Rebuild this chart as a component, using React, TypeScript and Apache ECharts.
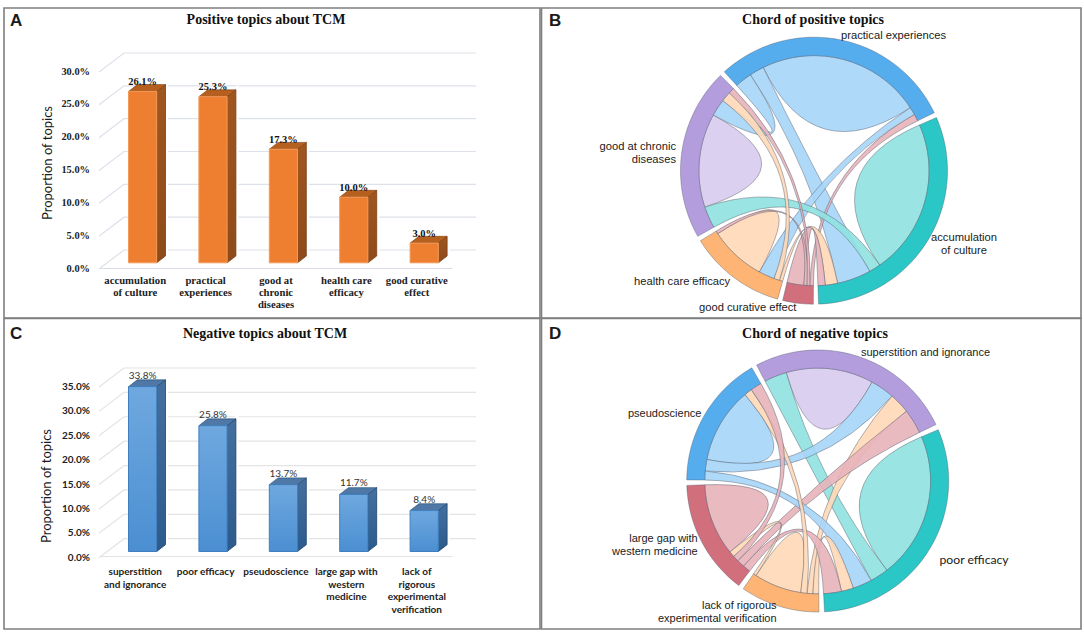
import React, { useEffect, useRef } from "react";
import * as echarts from "echarts";

// ---------- bar data ----------
const positiveCategories = ["accumulation\nof culture", "practical\nexperiences", "good at\nchronic\ndiseases", "health care\nefficacy", "good curative\neffect"];
const positiveValues = [26.1, 25.3, 17.3, 10.0, 3.0];
const negativeCategories = ["superstition\nand ignorance", "poor efficacy", "pseudoscience", "large gap with\nwestern\nmedicine", "lack of\nrigorous\nexperimental\nverification"];
const negativeValues = [33.8, 25.8, 13.7, 11.7, 8.4];
const positiveTicks = [0, 5, 10, 15, 20, 25, 30];
const negativeTicks = [0, 5, 10, 15, 20, 25, 30, 35];

// ---------- chord data: per topic, clockwise list of [other topic, degrees of the arc used] ----------
const PE = "practical experiences", AC = "accumulation of culture", GC = "good curative effect", HC = "health care efficacy", CD = "good at chronic diseases";
const positiveNodes = [PE, AC, GC, HC, CD];
const positiveSegments: Record<string, [string, number][]> = {
  [PE]: [[CD, 8.7], [AC, 7.3], [PE, 83], [HC, 4], [GC, 3.5]],
  [AC]: [[AC, 78.6], [CD, 5.8], [PE, 17.2], [HC, 6.2], [GC, 3.7]],
  [GC]: [[PE, 1.8], [CD, 1.5], [HC, 1.5], [AC, 8.5]],
  [HC]: [[AC, 1.7], [CD, 2.8], [PE, 8], [HC, 28.5], [GC, 1.5]],
  [CD]: [[AC, 11], [CD, 47.4], [PE, 8.6], [HC, 5], [GC, 3]],
};
const SI = "superstition and ignorance", PF = "poor efficacy", LR = "lack of rigorous experimental verification", LG = "large gap with western medicine", PS = "pseudoscience";
const negativeNodes = [SI, PF, LR, LG, PS];
const negativeSegments: Record<string, [string, number][]> = {
  [SI]: [[PF, 11.6], [SI, 45], [PS, 12.4], [LR, 10.6], [LG, 12.7]],
  [PF]: [[PF, 75.3], [SI, 9.5], [PS, 9.9], [LR, 6.2], [LG, 9.2]],
  [LR]: [[PF, 3], [SI, 3], [PS, 3.2], [LR, 24.5], [LG, 1.5]],
  [LG]: [[PF, 4], [SI, 4], [PS, 3], [LR, 3], [LG, 37]],
  [PS]: [[PF, 4.6], [SI, 5.9], [PS, 39], [LR, 4], [LG, 5.8]],
};

// ---------- colours ----------
const BLUE = { ring: "#56ADEE", ribbon: "#A6D5F8" };
const TEAL = { ring: "#2BC6C6", ribbon: "#8FE2E0" };
const RED = { ring: "#D26F7C", ribbon: "#E8B3BA" };
const ORANGE = { ring: "#FDB474", ribbon: "#FFD8B6" };
const PURPLE = { ring: "#B39DDD", ribbon: "#D8CBEE" };
const positiveColors = { [PE]: BLUE, [AC]: TEAL, [GC]: RED, [HC]: ORANGE, [CD]: PURPLE };
const negativeColors = { [SI]: PURPLE, [PF]: TEAL, [LR]: ORANGE, [LG]: RED, [PS]: BLUE };
const positivePriority = [GC, PE, HC, AC, CD];
const negativePriority = [LR, LG, PS, PF, SI];

const SERIF = '"Liberation Serif", serif';
const SANS = '"Liberation Sans", sans-serif';
const LATO = 'Lato, sans-serif';

const DEPTH_WALL = { dx: 24, dy: -18 };
const BAR = { dxFront: 7.4, dyFront: -5.2, width: 28.2, dx: 8.8, dy: -6.8 };

function wallSeries(ticks: number[], gridIndex: number, color: string) {
  return {
    type: "custom", xAxisIndex: gridIndex, yAxisIndex: gridIndex, z: 1, silent: true,
    data: ticks.map((t) => [0, t]),
    encode: { x: 0, y: 1 },
    renderItem: (params: any, api: any) => {
      const c = params.coordSys;
      const y = api.coord([0, api.value(1)])[1];
      return {
        type: "polyline",
        shape: { points: [[c.x - 1, y + 1], [c.x + DEPTH_WALL.dx, y + DEPTH_WALL.dy], [c.x + c.width + DEPTH_WALL.dx, y + DEPTH_WALL.dy]] },
        style: { fill: "none", stroke: color, lineWidth: 1.2 },
      };
    },
  };
}

function barSeries(values: number[], gridIndex: number, pal: any) {
  return {
    type: "custom", xAxisIndex: gridIndex, yAxisIndex: gridIndex, z: 3, silent: true,
    data: values.map((v, i) => [i, v]),
    encode: { x: 0, y: 1 },
    renderItem: (_: any, api: any) => {
      const v = api.value(1);
      const top = api.coord([api.value(0), v]);
      const base = api.coord([api.value(0), 0]);
      const l = top[0] + BAR.dxFront - BAR.width / 2, r = l + BAR.width;
      const t = top[1] + BAR.dyFront, b = base[1] + BAR.dyFront;
      const side = [[r, t], [r + BAR.dx, t + BAR.dy], [r + BAR.dx, b + BAR.dy], [r, b]];
      return {
        type: "group",
        children: [
          { type: "polygon", shape: { points: side }, style: { fill: "#fff", stroke: "#fff", lineWidth: 5 } },
          { type: "polygon", shape: { points: side }, style: { fill: new echarts.graphic.LinearGradient(0, 0, 0, 1, pal.side), stroke: pal.edge, lineWidth: 0.8 } },
          { type: "polygon", shape: { points: [[l, t], [l + BAR.dx, t + BAR.dy], [r + BAR.dx, t + BAR.dy], [r, t]] }, style: { fill: pal.top, stroke: pal.edge, lineWidth: 0.6 } },
          { type: "rect", shape: { x: l, y: t, width: BAR.width, height: b - t }, style: { fill: new echarts.graphic.LinearGradient(0, 0, 0, 1, pal.front), stroke: pal.frontEdge, lineWidth: 1 } },
          { type: "text", z2: 10, style: { x: (l + r) / 2, y: t - pal.labelGap, text: `${v.toFixed(1)}%`, font: pal.labelFont, fill: pal.labelColor, align: "center", verticalAlign: "middle" } },
        ],
      };
    },
  };
}

function chordSeries(nodes: string[], segments: Record<string, [string, number][]>, colors: any, priority: string[], startAngle: number, cx: number, cy: number, R: number) {
  const rIn = R * 0.862;
  const total = nodes.reduce((s, n) => s + segments[n].reduce((a, x) => a + x[1], 0), 0);
  const gap = (360 - total) / nodes.length;
  const pt = (deg: number, r: number) => {
    const a = (deg * Math.PI) / 180;
    return `${(cx + r * Math.sin(a)).toFixed(2)} ${(cy - r * Math.cos(a)).toFixed(2)}`;
  };
  const arc = (a0: number, a1: number, r: number) => {
    const n = Math.max(1, Math.ceil(Math.abs(a1 - a0) / 2));
    let s = "";
    for (let i = 1; i <= n; i++) s += ` L ${pt(a0 + ((a1 - a0) * i) / n, r)}`;
    return s;
  };
  const rings: any[] = [];
  const selfs: any[] = [];
  const ends: Record<string, any[]> = {};
  let angle = startAngle;
  nodes.forEach((n) => {
    const a0 = angle;
    segments[n].forEach(([other, v]) => {
      const s = angle, e = angle + v;
      angle = e;
      if (other === n) {
        selfs.push({ fill: colors[n].ribbon, d: `M ${pt(s, rIn)}${arc(s, e, rIn)} Q ${cx} ${cy} ${pt(s, rIn)} Z` });
      } else {
        const key = [n, other].sort().join("|");
        (ends[key] = ends[key] || []).push({ s, e, n, other });
      }
    });
    rings.push({ fill: colors[n].ring, d: `M ${pt(a0, R)}${arc(a0, angle, R)} L ${pt(angle, rIn)}${arc(angle, a0, rIn)} Z` });
    angle += gap;
  });
  const links = Object.values(ends).map(([A, B]) => {
    const owner = priority.indexOf(A.n) < priority.indexOf(B.n) ? A.n : B.n;
    return {
      fill: colors[owner].ribbon,
      d: `M ${pt(A.s, rIn)}${arc(A.s, A.e, rIn)} Q ${cx} ${cy} ${pt(B.s, rIn)}${arc(B.s, B.e, rIn)} Q ${cx} ${cy} ${pt(A.s, rIn)} Z`,
    };
  });
  const items = [...selfs.map((x) => ({ ...x, kind: "ribbon" })), ...links.map((x) => ({ ...x, kind: "ribbon" })), ...rings.map((x) => ({ ...x, kind: "ring" }))];
  return {
    type: "custom", coordinateSystem: "none", silent: true, z: 4,
    data: items.map((_, i) => [i]),
    renderItem: (params: any) => {
      const it = items[params.dataIndex];
      return {
        type: "path",
        shape: { pathData: it.d },
        style: it.kind === "ring"
          ? { fill: it.fill, stroke: "rgba(70,80,100,0.45)", lineWidth: 0.8 }
          : { fill: it.fill, opacity: 0.9, stroke: "rgba(85,90,105,0.5)", lineWidth: 1 },
      };
    },
  };
}

const tag = (text: string, x: number, y: number, font: string, align = "left", rotation = 0, lineHeight = 13) => ({
  type: "text", x, y, rotation, z: 20, silent: true,
  style: { text, font, fill: "#1a1a1a", textAlign: align, textVerticalAlign: "middle", lineHeight },
});
const frame = (x: number, y: number, width: number, height: number) => ({
  type: "rect", z: 0, silent: true, shape: { x, y, width, height }, style: { fill: "none", stroke: "#7f7f7f", lineWidth: 1.6 },
});
const heading = (text: string, left: number, top: number) => ({
  text, left, top, textAlign: "center", padding: 0,
  textStyle: { fontFamily: SERIF, fontWeight: "bold", fontSize: 14, color: "#111" },
});

const xAxis = (data: string[], gridIndex: number, font: any, margin: number, lineHeight: number, line: string) => ({
  type: "category", gridIndex, data,
  axisTick: { show: false },
  axisLine: { show: true, lineStyle: { color: line, width: 1.2 } },
  axisLabel: { interval: 0, margin, lineHeight, hideOverlap: false, overflow: "none", color: "#222", ...font },
});
const yAxis = (max: number, gridIndex: number, font: any) => ({
  type: "value", gridIndex, min: 0, max, interval: 5,
  axisLine: { show: false }, axisTick: { show: false }, splitLine: { show: false },
  axisLabel: { margin: 10, color: "#222", formatter: (v: number) => `${v.toFixed(1)}%`, ...font },
});

const orangePal = {
  front: [{ offset: 0, color: "#EE7F30" }, { offset: 1, color: "#EE7F30" }],
  side: [{ offset: 0, color: "#A0561F" }, { offset: 1, color: "#8E4A1A" }],
  top: "#B5601F", edge: "#7A3E12", frontEdge: "#F39A5A", labelGap: 10,
  labelFont: `bold 10.5px ${SERIF}`, labelColor: "#111",
};
const bluePal = {
  front: [{ offset: 0, color: "#6FA8DF" }, { offset: 1, color: "#4B8FD2" }],
  side: [{ offset: 0, color: "#44709E" }, { offset: 1, color: "#2C5A8C" }],
  top: "#4F78A6", edge: "#1D4570", frontEdge: "#3F7FC0", labelGap: 12,
  labelFont: `10px ${LATO}`, labelColor: "#333",
};

export default function App() {
  const ref = useRef<HTMLDivElement>(null);
  useEffect(() => {
    document.body.style.margin = "0";
    const chart = echarts.init(ref.current!, null, { renderer: "svg" });
    const serifTick = { fontFamily: SERIF, fontWeight: "bold", fontSize: 10.4 };
    const latoTick = { fontFamily: LATO, fontWeight: "bold", fontSize: 10 };
    chart.setOption({
      animation: false,
      backgroundColor: "#fff",
      title: [
        heading("Positive topics about TCM", 266, 12),
        heading("Chord of positive topics", 813, 12),
        heading("Negative topics about TCM", 265, 326),
        heading("Chord of negative topics", 815, 326),
      ],
      grid: [
        { left: 100, top: 71, width: 352, height: 197 },
        { left: 100, top: 386, width: 352, height: 170.7 },
      ],
      xAxis: [
        xAxis(positiveCategories, 0, { fontFamily: SERIF, fontWeight: "bold", fontSize: 10.7 }, 6, 12, "#d9dde6"),
        xAxis(negativeCategories, 1, { fontFamily: LATO, fontWeight: "bold", fontSize: 10 }, 8, 12.7, "#e2e2e2"),
      ],
      yAxis: [yAxis(30, 0, serifTick), yAxis(35, 1, latoTick)],
      series: [
        wallSeries(positiveTicks, 0, "#dde1ea"),
        barSeries(positiveValues, 0, orangePal),
        wallSeries(negativeTicks, 1, "#e4e4e4"),
        barSeries(negativeValues, 1, bluePal),
        chordSeries(positiveNodes, positiveSegments, positiveColors, positivePriority, 317.8, 814, 170.7, 133.5),
        chordSeries(negativeNodes, negativeSegments, negativeColors, negativePriority, 332.2, 817.7, 481, 131),
      ],
      graphic: [
        frame(4, 8, 536, 310), frame(541.5, 8, 539.5, 310), frame(4, 318.5, 536, 310.5), frame(541.5, 318.5, 539.5, 310.5),
        tag("A", 10, 20, `bold 17px ${SANS}`), tag("B", 549, 20, `bold 17px ${SANS}`),
        tag("C", 10, 333, `bold 17px ${SANS}`), tag("D", 549, 333, `bold 17px ${SANS}`),
        tag("Proportion of topics", 46.5, 163, `13px ${LATO}`, "center", Math.PI / 2),
        tag("Proportion of topics", 46, 486, `13px ${LATO}`, "center", Math.PI / 2),
        tag("practical experiences", 841, 35, `11.2px ${SANS}`),
        tag("good at chronic\ndiseases", 676, 152, `11.2px ${SANS}`, "right"),
        tag("accumulation\nof culture", 964, 243.5, `11.2px ${SANS}`, "center"),
        tag("health care efficacy", 634, 281, `11.2px ${SANS}`),
        tag("good curative effect", 699, 307, `11.2px ${SANS}`),
        tag("superstition and ignorance", 861, 352, `11px ${SANS}`),
        tag("pseudoscience", 628, 412.7, `11px ${SANS}`),
        tag("large gap with\nwestern medicine", 697.7, 544, `11px ${SANS}`, "right"),
        tag("poor efficacy", 939.5, 559, `12.2px ${LATO}`),
        tag("lack of rigorous\nexperimental verification", 776.6, 611, `11px ${SANS}`, "right"),
      ],
    });
    return () => chart.dispose();
  }, []);
  return <div ref={ref} style={{ width: 1084, height: 634 }} />;
}
